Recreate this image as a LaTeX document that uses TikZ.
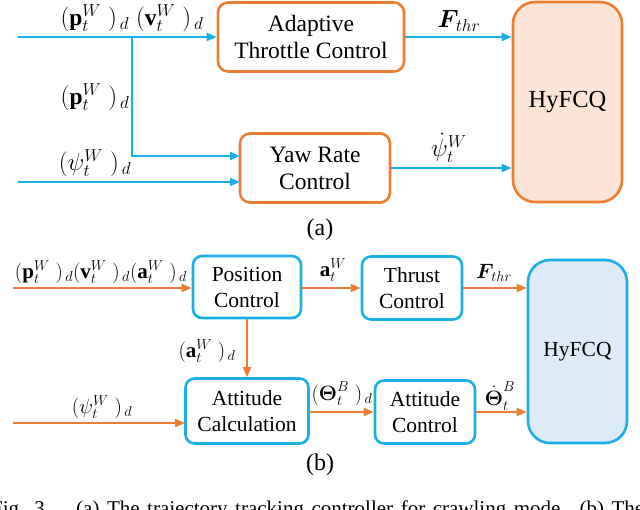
\documentclass[tikz,border=0pt]{standalone}
\usepackage{fontspec}
\setmainfont{Liberation Serif}
\usepackage{amsmath,amssymb}
\usetikzlibrary{arrows.meta,calc}
\definecolor{orangeC}{HTML}{ED7D31}
\definecolor{blueC}{HTML}{1AAFE8}
\definecolor{peachF}{HTML}{FBE5D6}
\definecolor{blueF}{HTML}{DEEBF7}
\newcommand{\dsub}[1]{(#1\;)_{\,d}}
\begin{document}
\begin{tikzpicture}[x=1pt,y=-1pt,
  boxa/.style={draw=orangeC,line width=2.6pt,rounded corners=10pt,align=center,inner sep=0pt,
    font=\fontsize{23.5}{27}\selectfont},
  boxb/.style={draw=blueC,line width=2.6pt,rounded corners=9pt,align=center,inner sep=0pt,
    font=\fontsize{21.5}{26}\selectfont},
  arra/.style={draw=blueC,line width=2pt,-{Triangle[length=10pt,width=8pt]}},
  arrb/.style={draw=orangeC,line width=2pt,-{Triangle[length=10pt,width=8pt]}},
  lbla/.style={inner sep=0pt,font=\fontsize{23.5}{26}\selectfont},
  lblb/.style={inner sep=0pt,font=\fontsize{21}{24}\selectfont},
  sub/.style={inner sep=0pt,font=\fontsize{24}{28}\selectfont}]
\clip (0,0) rectangle (640,510);
% ---------- (a) ----------
\node[boxa,minimum width=186pt,minimum height=69pt] (ATC) at (311,37) {Adaptive\\Throttle Control};
\node[boxa,minimum width=150pt,minimum height=69pt] (YRC) at (315,168) {Yaw Rate\\Control};
\node[boxa,fill=peachF,rounded corners=22pt,minimum width=109pt,minimum height=200pt] (HyA) at (567.5,102) {\fontsize{24.5}{28}\selectfont HyFCQ};
\coordinate (inA1) at (18,37);
\coordinate (inA2) at (18,182);
\coordinate (brA) at (132,37);
\coordinate (yawin1) at (240,156);
\coordinate (yawin2) at (240,182);
\draw[arra] (inA1) -- (ATC.west |- inA1);
\draw[arra] (brA) |- (yawin1);
\draw[arra] (inA2) -- (yawin2);
\draw[arra] (ATC.east |- inA1) -- (HyA.west |- inA1);
\draw[arra] (YRC.east) -- (HyA.west |- YRC.east);
\node[lbla] (lA1) at (132,18) {$\dsub{\mathbf{p}_t^{W}}\;\dsub{\mathbf{v}_t^{W}}$};
\node[lbla] (lA2) at (95,97) {$\dsub{\mathbf{p}_t^{W}}$};
\node[lbla] (lA3) at (95,163) {$\dsub{\psi_t^{W}}$};
\node[lbla] (lA4) at (459,21) {$\boldsymbol{F}_{\!thr}$};
\node[lbla] (lA5) at (449,148) {$\dot{\psi}_t^{W}$};
\node[sub] (capA) at (320,230) {(a)};
% ---------- (b) ----------
\node[boxb,minimum width=108pt,minimum height=62pt] (PC) at (247,287) {Position\\Control};
\node[boxb,minimum width=100pt,minimum height=63pt] (TC) at (412,288) {Thrust\\Control};
\node[boxb,minimum width=123pt,minimum height=65pt] (AC) at (247,411) {Attitude\\Calculation};
\node[boxb,minimum width=100pt,minimum height=63pt] (AtC) at (425,412) {Attitude\\Control};
\node[boxb,fill=blueF,rounded corners=22pt,minimum width=99pt,minimum height=183pt] (HyB) at (577.5,351.5) {HyFCQ};
\coordinate (inB1) at (13,288);
\coordinate (inB2) at (13,423);
\coordinate (acin) at (185,423);
\draw[arrb] (inB1) -- (PC.west |- inB1);
\draw[arrb] (inB2) -- (acin);
\draw[arrb] (PC.south -| AC.north) -- (AC.north);
\draw[arrb] (PC.east |- inB1) -- (TC.west |- inB1);
\draw[arrb] (TC.east |- inB1) -- (HyB.west |- inB1);
\draw[arrb] (AC.east |- AtC.west) -- (AtC.west);
\draw[arrb] (AtC.east) -- (HyB.west |- AtC.east);
\node[lblb] (lB1) at (101,272) {$\dsub{\mathbf{p}_t^{W}}\dsub{\mathbf{v}_t^{W}}\dsub{\mathbf{a}_t^{W}}$};
\node[lblb] (lB2) at (333,270) {$\mathbf{a}_t^{W}$};
\node[lblb] (lB3) at (494,273) {$\boldsymbol{F}_{\!thr}$};
\node[lblb] (lB4) at (207,351) {$\dsub{\mathbf{a}_t^{W}}$};
\node[lblb] (lB5) at (102,407) {$\dsub{\psi_t^{W}}$};
\node[lblb] (lB6) at (342,394) {$\dsub{\boldsymbol{\Theta}_t^{B}}$};
\node[lblb] (lB7) at (500,396) {$\dot{\boldsymbol{\Theta}}_t^{B}$};
\node[sub] (capB) at (320,465) {(b)};
% ---------- caption ----------
\node[anchor=base west,inner sep=0pt,font=\fontsize{21}{24}\selectfont] (cap) at (76,515)
  {\llap{Fig.\hspace{10pt}3.\hspace{26pt}}\makebox[568pt][s]{(a) The trajectory tracking controller for crawling mode. (b) The}};
\end{tikzpicture}
\end{document}
